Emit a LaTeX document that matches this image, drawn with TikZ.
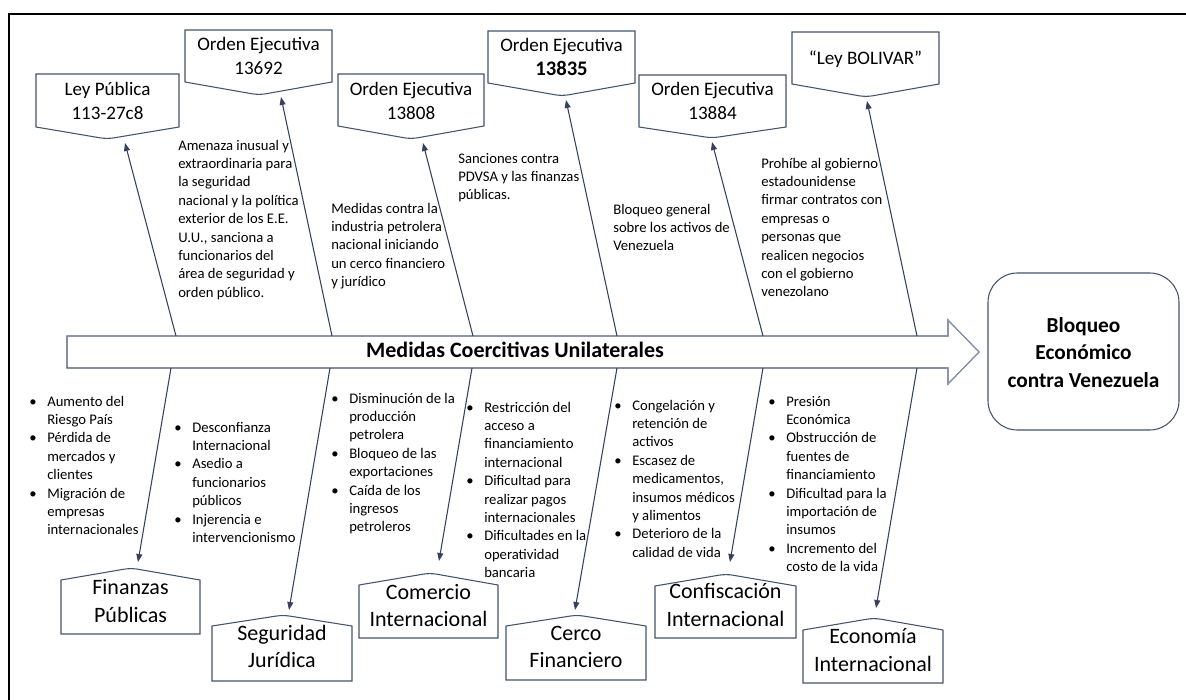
\documentclass[tikz,border=0pt]{standalone}
\usepackage{fontspec}
\setmainfont{Carlito}
\usetikzlibrary{arrows.meta}
\definecolor{edgec}{HTML}{44546A}
\definecolor{connc}{HTML}{34425F}
\definecolor{lightc}{HTML}{8C9AB4}
\newcommand\bul{\leavevmode\llap{\textbullet\hspace{8pt}}}
\tikzset{
  shapeline/.style={draw=edgec, line width=0.8pt},
  connector/.style={draw=connc, line width=0.8pt, -{Triangle[length=6pt,width=4.5pt]}},
  toplabel/.style={font=\fontsize{14.3}{18}\selectfont, align=center, anchor=base, inner sep=0pt},
  botlabel/.style={font=\fontsize{16.5}{20.5}\selectfont, align=center, anchor=base, inner sep=0pt},
  notetext/.style={font=\fontsize{11}{13.8}\selectfont, align=left, anchor=base west, inner sep=0pt},
}
% shape: x1 x2 yfar yside xapex yapex
\newcommand\PentShp[6]{\draw[shapeline] (#1,#4) -- (#1,#3) -- (#2,#3) -- (#2,#4) [rounded corners=5pt] -- (#5,#6) [sharp corners] -- cycle;}
\begin{document}
\begin{tikzpicture}[x=0.75pt,y=-0.75pt]
\useasboundingbox (0,0) rectangle (1186,700);
% frame
\draw[line width=1.5pt] (8.5,705) -- (8.5,14.3) -- (1190,14.3);

% main arrow
\draw[draw=edgec, line width=0.8pt] (67,336) -- (948,336) -- (948,320) -- (979,352) -- (948,384) -- (948,368) -- (67,368) -- cycle;
\draw[draw=lightc, line width=0.8pt] (67,336) -- (948,336) -- (948,320) -- (979,352) -- (948,384) -- (948,368);
\node[font=\bfseries\fontsize{16.5}{20}\selectfont, anchor=base, inner sep=0pt] (title) at (515,357) {Medidas Coercitivas Unilaterales};

% right box
\draw[shapeline, rounded corners=22pt] (988,273) rectangle (1179,430);
\node[font=\bfseries\fontsize{16}{20.6}\selectfont, align=center, anchor=base, inner sep=0pt] (goal) at (1083.5,387) {Bloqueo\\Económico\\contra Venezuela};

% top shapes
\PentShp{36}{179}{74}{127}{107}{139}
\PentShp{185}{332}{30}{82}{259}{95}
\PentShp{338}{484}{74}{126}{411}{139}
\PentShp{488}{635}{31}{83}{562}{96}
\PentShp{639}{786}{75}{127}{712}{138}
\PentShp{792}{939}{32}{84}{866}{97}
\node[toplabel] (t1) at (107.5,119) {Ley Pública\\113-27c8};
\node[toplabel] (t2) at (258.5,74) {Orden Ejecutiva\\13692};
\node[toplabel] (t3) at (411,119) {Orden Ejecutiva\\13808};
\node[toplabel] (t4) at (561.5,75) {Orden Ejecutiva\\{\bfseries\fontsize{15.5}{18}\selectfont 13835}};
\node[toplabel] (t5) at (712.5,119) {Orden Ejecutiva\\13884};
\node[toplabel] (t6) at (865.5,64) {“Ley BOLIVAR”};

% bottom shapes
\PentShp{61}{200}{634}{580}{131}{568}
\PentShp{212}{352}{681}{626}{283}{615}
\PentShp{359}{498}{638}{585}{430}{573}
\PentShp{506}{646}{680}{626}{577}{615}
\PentShp{655}{796}{638}{586}{726}{574}
\PentShp{803}{943}{683}{630}{874}{618}
\node[botlabel] (b1) at (130.5,622.3) {Finanzas\\Públicas};
\node[botlabel] (b2) at (282,667.5) {Seguridad\\Jurídica};
\node[botlabel] (b3) at (428.5,626.5) {Comercio\\Internacional};
\node[botlabel] (b4) at (576,667.5) {Cerco\\Financiero};
\node[botlabel] (b5) at (725.5,626.3) {Confiscación\\Internacional};
\node[botlabel] (b6) at (873,671) {Economía\\Internacional};

% connector coordinates
\coordinate (us1) at (176,336); \coordinate (ue1) at (125,143);
\coordinate (us2) at (332,336); \coordinate (ue2) at (281,97);
\coordinate (us3) at (473,336); \coordinate (ue3) at (423,143);
\coordinate (us4) at (617,336); \coordinate (ue4) at (566,100);
\coordinate (us5) at (763,336); \coordinate (ue5) at (712,142);
\coordinate (us6) at (917,336); \coordinate (ue6) at (867,101);
\coordinate (ds1) at (171,368); \coordinate (de1) at (138,562);
\coordinate (ds2) at (330,368); \coordinate (de2) at (289,610);
\coordinate (ds3) at (472,368); \coordinate (de3) at (439,561);
\coordinate (ds4) at (617,368); \coordinate (de4) at (575,610);
\coordinate (ds5) at (763,368); \coordinate (de5) at (730,562);
\coordinate (ds6) at (917,368); \coordinate (de6) at (876,608);
\foreach \i in {1,...,6}{
  \draw[connector] (us\i) -- (ue\i);
  \draw[connector] (ds\i) -- (de\i);
}

% top notes (anchored at the baseline of the last line)
\node[notetext] (na) at (178,297.2) {Amenaza inusual y\\extraordinaria para\\la seguridad\\nacional y la política\\exterior de los E.E.\\U.U., sanciona a\\funcionarios del\\área de seguridad y\\orden público.};
\node[notetext] (nb) at (331,286.6) {Medidas contra la\\industria petrolera\\nacional iniciando\\un cerco financiero\\y jurídico};
\node[notetext] (nc) at (458,199.8) {Sanciones contra\\PDVSA y las finanzas\\públicas.};
\node[notetext] (nd) at (613,250.8) {Bloqueo general\\sobre los activos de\\Venezuela};
\node[notetext] (ne) at (761,296.8) {Prohíbe al gobierno\\estadounidense\\firmar contratos con\\empresas o\\personas que\\realicen negocios\\con el gobierno\\venezolano};

% bottom notes
\node[notetext] (nf) at (47,534.8) {\bul Aumento del\\Riesgo País\\\bul Pérdida de\\mercados y\\clientes\\\bul Migración de\\empresas\\internacionales};
\node[notetext] (ng) at (192,542.4) {\bul Desconfianza\\Internacional\\\bul Asedio a\\funcionarios\\públicos\\\bul Injerencia e\\intervencionismo};
\node[notetext] (nh) at (349,531.8) {\bul Disminución de la\\producción\\petrolera\\\bul Bloqueo de las\\exportaciones\\\bul Caída de los\\ingresos\\petroleros};
\node[notetext] (ni) at (484,577.6) {\bul Restricción del\\acceso a\\financiamiento\\internacional\\\bul Dificultad para\\realizar pagos\\internacionales\\\bul Dificultades en la\\operatividad\\bancaria};
\node[notetext] (nj) at (632,557.2) {\bul Congelación y\\retención de\\activos\\\bul Escasez de\\medicamentos,\\insumos médicos\\y alimentos\\\bul Deterioro de la\\calidad de vida};
\node[notetext] (nk) at (786,571.6) {\bul Presión\\Económica\\\bul Obstrucción de\\fuentes de\\financiamiento\\\bul Dificultad para la\\importación de\\insumos\\\bul Incremento del\\costo de la vida};
\end{tikzpicture}
\end{document}
